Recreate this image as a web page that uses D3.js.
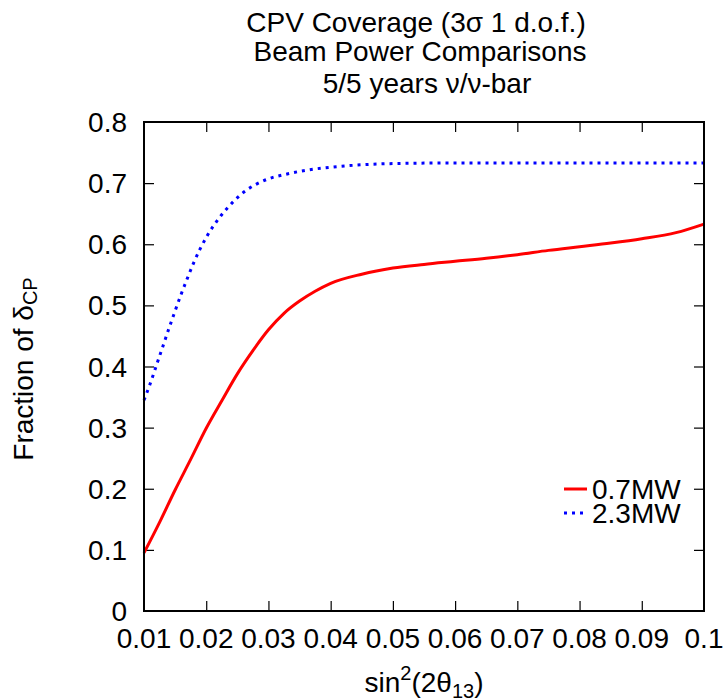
<!DOCTYPE html>
<html>
<head>
<meta charset="utf-8">
<script src="https://cdn.jsdelivr.net/npm/d3@7"></script>
<style>
  body { margin: 0; background: #fff; }
  svg { font-family: "Liberation Sans", Arial, sans-serif; }
</style>
</head>
<body>
<div id="vis"></div>
<script>
// red curve: 0.7MW
var redX = [0.010, 0.0125, 0.015, 0.0175, 0.020, 0.0225, 0.025, 0.0275, 0.030, 0.0325,
            0.035, 0.0375, 0.040, 0.045, 0.050, 0.055, 0.060, 0.065, 0.070, 0.075,
            0.080, 0.085, 0.090, 0.0955, 0.100];
var redY = [0.095, 0.145, 0.198, 0.248, 0.299, 0.344, 0.388, 0.426, 0.460, 0.487,
            0.507, 0.523, 0.536, 0.551, 0.561, 0.567, 0.572, 0.577, 0.583, 0.590,
            0.596, 0.602, 0.609, 0.619, 0.633];

// blue curve: 2.3MW
var blueX = [0.010, 0.011, 0.012, 0.013, 0.014, 0.015, 0.016, 0.017, 0.018, 0.019,
             0.020, 0.022, 0.024, 0.026, 0.028, 0.030, 0.033, 0.036, 0.040, 0.045,
             0.050, 0.060, 0.100];
var blueY = [0.345, 0.372, 0.402, 0.432, 0.462, 0.491, 0.519, 0.545, 0.570, 0.592,
             0.611, 0.642, 0.666, 0.685, 0.698, 0.707, 0.715, 0.721, 0.726, 0.730,
             0.732, 0.733, 0.733];

var xTicks = [0.01, 0.02, 0.03, 0.04, 0.05, 0.06, 0.07, 0.08, 0.09, 0.1];
var xTickLabels = ['0.01', '0.02', '0.03', '0.04', '0.05', '0.06', '0.07', '0.08', '0.09', '0.1'];
var yTicks = [0, 0.1, 0.2, 0.3, 0.4, 0.5, 0.6, 0.7, 0.8];
var yTickLabels = ['0', '0.1', '0.2', '0.3', '0.4', '0.5', '0.6', '0.7', '0.8'];

var seriesNames = ['0.7MW', '2.3MW'];

var width = 725, height = 700;
var margin = { left: 144, right: 21, top: 122, bottom: 89 };
var fontSize = 28;

var svg = d3.select('#vis').append('svg')
  .attr('width', width)
  .attr('height', height);

var x = d3.scaleLinear().domain([0.01, 0.1]).range([margin.left, width - margin.right]);
var y = d3.scaleLinear().domain([0, 0.8]).range([height - margin.bottom, margin.top]);

// title
var titleLines = [
  { text: 'CPV Coverage (3\u03C3 1 d.o.f.)', cx: 416, by: 32 },
  { text: 'Beam Power Comparisons', cx: 420, by: 61 },
  { text: '5/5 years \u03BD/\u03BD-bar', cx: 427, by: 93 }
];
svg.selectAll('.title').data(titleLines).enter().append('text')
  .attr('class', 'title')
  .attr('x', function (d) { return d.cx; })
  .attr('y', function (d) { return d.by; })
  .attr('text-anchor', 'middle')
  .attr('font-size', fontSize)
  .text(function (d) { return d.text; });

// axes with inward ticks, mirrored
var tickLen = 10;
var bottomAxis = d3.axisBottom(x).tickValues(xTicks.slice(1, -1)).tickSizeInner(-tickLen).tickSizeOuter(0).tickFormat('');
var topAxis = d3.axisTop(x).tickValues(xTicks.slice(1, -1)).tickSizeInner(-tickLen).tickSizeOuter(0).tickFormat('');
var leftAxis = d3.axisLeft(y).tickValues(yTicks.slice(1, -1)).tickSizeInner(-tickLen).tickSizeOuter(0).tickFormat('');
var rightAxis = d3.axisRight(y).tickValues(yTicks.slice(1, -1)).tickSizeInner(-tickLen).tickSizeOuter(0).tickFormat('');

function styleAxis(g) {
  g.select('.domain').remove();
  g.selectAll('.tick line').attr('stroke', '#000').attr('stroke-width', 1.2);
}
svg.append('g').attr('transform', 'translate(0,' + y(0) + ')').call(bottomAxis).call(styleAxis);
svg.append('g').attr('transform', 'translate(0,' + y(0.8) + ')').call(topAxis).call(styleAxis);
svg.append('g').attr('transform', 'translate(' + x(0.01) + ',0)').call(leftAxis).call(styleAxis);
svg.append('g').attr('transform', 'translate(' + x(0.1) + ',0)').call(rightAxis).call(styleAxis);

// tick labels
svg.selectAll('.xlab').data(xTicks).enter().append('text')
  .attr('class', 'xlab')
  .attr('x', function (d) { return x(d); })
  .attr('y', 648)
  .attr('text-anchor', 'middle')
  .attr('font-size', fontSize)
  .text(function (d, i) { return xTickLabels[i]; });

svg.selectAll('.ylab').data(yTicks).enter().append('text')
  .attr('class', 'ylab')
  .attr('x', 127)
  .attr('y', function (d) { return y(d); })
  .attr('dy', '0.36em')
  .attr('text-anchor', 'end')
  .attr('font-size', fontSize)
  .text(function (d, i) { return yTickLabels[i]; });

// curves
var line = d3.line()
  .x(function (d) { return x(d[0]); })
  .y(function (d) { return y(d[1]); })
  .curve(d3.curveMonotoneX);

var redData = redX.map(function (v, i) { return [v, redY[i]]; });
var blueData = blueX.map(function (v, i) { return [v, blueY[i]]; });

svg.append('path').datum(redData)
  .attr('d', line)
  .attr('fill', 'none')
  .attr('stroke', '#ff0000')
  .attr('stroke-width', 3);

svg.append('path').datum(blueData)
  .attr('d', line)
  .attr('fill', 'none')
  .attr('stroke', '#0000ff')
  .attr('stroke-width', 3)
  .attr('stroke-dasharray', '3,5');

// frame
svg.append('rect')
  .attr('x', x(0.01))
  .attr('y', y(0.8))
  .attr('width', x(0.1) - x(0.01))
  .attr('height', y(0) - y(0.8))
  .attr('fill', 'none')
  .attr('stroke', '#000')
  .attr('stroke-width', 2);

// legend
var legend = [
  { name: seriesNames[0], color: '#ff0000', dash: null, ly: 489 },
  { name: seriesNames[1], color: '#0000ff', dash: '3,5', ly: 513 }
];
var lg = svg.selectAll('.legend').data(legend).enter().append('g').attr('class', 'legend');
lg.append('line')
  .attr('x1', 564).attr('x2', 587)
  .attr('y1', function (d) { return d.ly; })
  .attr('y2', function (d) { return d.ly; })
  .attr('stroke', function (d) { return d.color; })
  .attr('stroke-width', 3)
  .attr('stroke-dasharray', function (d) { return d.dash; });
lg.append('text')
  .attr('x', 592)
  .attr('y', function (d) { return d.ly; })
  .attr('dy', '0.36em')
  .attr('font-size', fontSize)
  .text(function (d) { return d.name; });

// x axis title
var xt = svg.append('text')
  .attr('x', 424)
  .attr('y', 692)
  .attr('text-anchor', 'middle')
  .attr('font-size', fontSize);
xt.append('tspan').text('sin');
xt.append('tspan').attr('font-size', 20).attr('dy', -12).text('2');
xt.append('tspan').attr('dy', 12).text('(2\u03B8');
xt.append('tspan').attr('font-size', 20).attr('dy', 6).text('13');
xt.append('tspan').attr('dy', -6).text(')');

// y axis title
var yt = svg.append('text')
  .attr('transform', 'translate(33,369) rotate(-90)')
  .attr('text-anchor', 'middle')
  .attr('font-size', fontSize);
yt.append('tspan').text('Fraction of \u03B4');
yt.append('tspan').attr('font-size', 20).attr('dy', 4).text('CP');
</script>
</body>
</html>
